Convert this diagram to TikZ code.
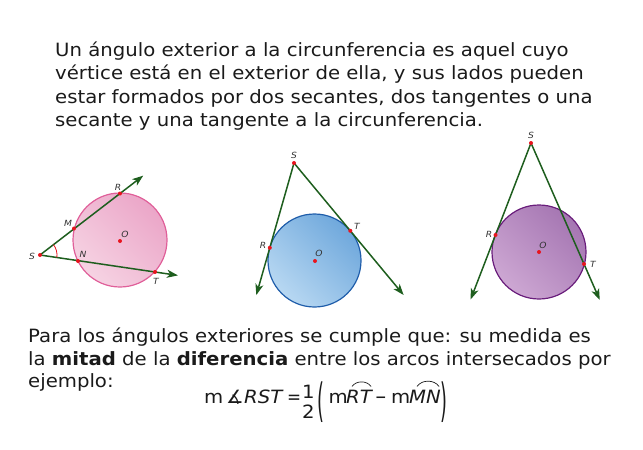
\documentclass[tikz,border=0pt]{standalone}
\usepackage{fontspec}
\setmainfont[FakeStretch=1.075]{DejaVu Sans}
\usetikzlibrary{arrows.meta,calc}
\definecolor{txt}{HTML}{1A1A1A}
\definecolor{lbl}{HTML}{333333}
\definecolor{lgreen}{HTML}{1E5E1E}
\definecolor{dotred}{HTML}{E8141E}
\definecolor{pinkB}{HTML}{E0609A}
\definecolor{pinkL}{HTML}{F6D3E3}
\definecolor{pinkD}{HTML}{EBA6C8}
\definecolor{blueB}{HTML}{1F5DAA}
\definecolor{blueL}{HTML}{B8D8F2}
\definecolor{blueD}{HTML}{6FA8DC}
\definecolor{purB}{HTML}{6A1E7C}
\definecolor{purL}{HTML}{CDA7D3}
\definecolor{purD}{HTML}{A576B2}
\tikzset{
  body/.style={font=\fontsize{18.3}{21}\selectfont, text=txt, inner sep=0pt, anchor=base west},
  lab/.style={font=\fontsize{8.5}{9}\selectfont\itshape, text=lbl, inner sep=0pt},
  ray/.style={draw=lgreen, line width=1.5pt, -{Stealth[length=11pt,width=8pt,inset=3pt]}},
  pt/.style={circle, fill=dotred, inner sep=0pt, minimum size=4pt},
  arcmark/.style={draw=txt, line width=0.7pt},
}
\begin{document}
\begin{tikzpicture}[x=1pt,y=-1pt]
\useasboundingbox (0,0) rectangle (643,450);
% top paragraph
\node[body] (t1) at (55,56) {Un ángulo exterior a la circunferencia es aquel cuyo};
\node[body] (t2) at (55,79.5) {vértice está en el exterior de ella, y sus lados pueden};
\node[body] (t3) at (55,103) {estar formados por dos secantes, dos tangentes o una};
\node[body] (t4) at (55,126) {secante y una tangente a la circunferencia.};
% diagram 1
\shade[left color=pinkL, right color=pinkD, shading angle=135] (120,240) circle[radius=47];
\draw[pinkB, line width=1.2pt] (120,240) circle[radius=47];
\coordinate (S1) at (40,255);
\coordinate (M1) at (74,228.5);
\coordinate (R1) at (120,193.5);
\coordinate (N1) at (78,261);
\coordinate (T1) at (155,272);
\coordinate (O1) at (120,241);
\draw[ray] (S1) -- ($(S1)!1.29!(R1)$);
\draw[ray] (S1) -- ($(S1)!1.2!(T1)$);
\draw[dotred, line width=0.8pt] ($(S1)+(-37.3:17)$) arc[start angle=-37.3, end angle=8.4, radius=17];
\foreach \p in {S1,M1,R1,N1,T1,O1} \node[pt] at (\p) {};
\node[lab] (lS1) at (32,256) {S};
\node[lab] (lM1) at (68,223) {M};
\node[lab] (lR1) at (118,187) {R};
\node[lab] (lN1) at (83,254) {N};
\node[lab] (lT1) at (156,281) {T};
\node[lab] (lO1) at (125,234) {O};
% diagram 2
\shade[left color=blueL, right color=blueD, shading angle=135] (314.5,260.5) circle[radius=46.5];
\draw[blueB, line width=1.2pt] (314.5,260.5) circle[radius=46.5];
\coordinate (S2) at (294,163);
\coordinate (R2) at (269.8,247.8);
\coordinate (T2) at (350.3,230.8);
\coordinate (O2) at (315,261);
\draw[ray] (S2) -- ($(S2)!1.557!(R2)$);
\draw[ray] (S2) -- ($(S2)!1.947!(T2)$);
\foreach \p in {S2,R2,T2,O2} \node[pt] at (\p) {};
\node[lab] (lS2) at (294,155) {S};
\node[lab] (lR2) at (263,245) {R};
\node[lab] (lT2) at (357,226) {T};
\node[lab] (lO2) at (319,253) {O};
% diagram 3
\shade[left color=purL, right color=purD, shading angle=135] (539,252) circle[radius=47];
\draw[purB, line width=1.2pt] (539,252) circle[radius=47];
\coordinate (S3) at (531,143);
\coordinate (R3) at (495.5,235);
\coordinate (T3) at (584,264);
\coordinate (O3) at (539,252);
\draw[ray] (S3) -- ($(S3)!1.70!(R3)$);
\draw[ray] (S3) -- ($(S3)!1.297!(T3)$);
\foreach \p in {S3,R3,T3,O3} \node[pt] at (\p) {};
\node[lab] (lS3) at (531,135) {S};
\node[lab] (lR3) at (489,234) {R};
\node[lab] (lT3) at (593,264) {T};
\node[lab] (lO3) at (543,245) {O};
% bottom paragraph
\node[body] (b1) at (28,342) {Para los ángulos exteriores se cumple que: su medida es};
\node[body] (b2) at (28,365) {la \textbf{mitad} de la \textbf{diferencia} entre los arcos intersecados por};
\node[body] (b3) at (28,387) {ejemplo:};
% formula
\node[body] (fm1) at (204,403) {m};
\node[body] (fang) at (226,403) {∡};
\node[body] (frst) at (244,403) {\itshape RST};
\node[body] (feq) at (287,403) {\scalebox{0.85}[1]{=}};
\node[body, anchor=base] (fone) at (308.5,398) {1};
\node[body, anchor=base] (ftwo) at (308.5,418) {2};
\node[body] (flp) at (317,403) {\raisebox{-13pt}{\scalebox{0.9}[2.5]{(}}};
\node[body] (fm2) at (328.5,403) {m};
\node[body] (frt) at (346,403) {\itshape RT};
\node[body] (fminus) at (375,403) {\scalebox{0.7}[1]{−}};
\node[body] (fm3) at (391,403) {m};
\node[body] (fmn) at (409,403) {\itshape MN};
\node[body] (frp) at (440,403) {\raisebox{-13pt}{\scalebox{0.9}[2.5]{)}}};
\draw[arcmark] ($(frt.north west)+(6,-3)$) to[bend left=55] ($(frt.north east)+(-1,-3)$);
\draw[arcmark] ($(fmn.north west)+(8,-3)$) to[bend left=55] ($(fmn.north east)+(-2,-3)$);
\end{tikzpicture}
\end{document}
